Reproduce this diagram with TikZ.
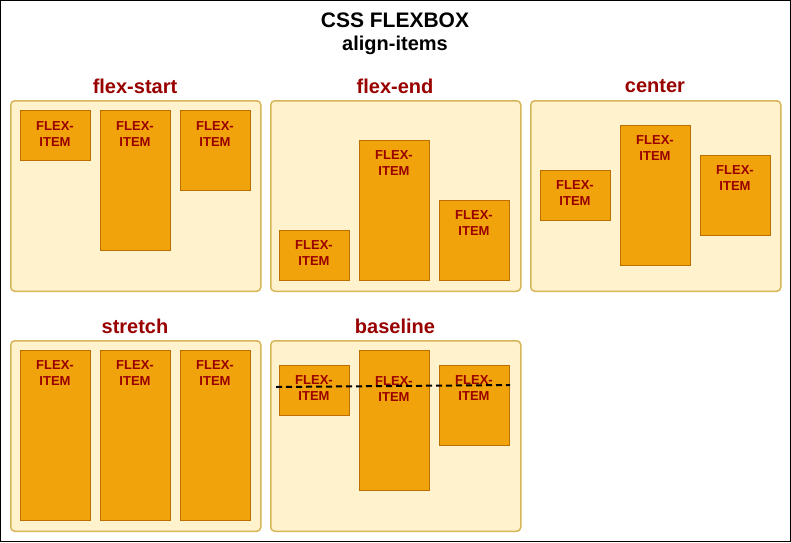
\documentclass[tikz,border=0pt]{standalone}
\usepackage{fontspec}
\setmainfont{Liberation Sans}
\definecolor{contfill}{HTML}{FFF2CC}
\definecolor{contdraw}{HTML}{D6B656}
\definecolor{itemfill}{HTML}{F0A30A}
\definecolor{itemdraw}{HTML}{BD7000}
\definecolor{darkred}{HTML}{990000}
\newcommand\fitem[6]{%
  \node[itembox, minimum width=#4pt, minimum height=#5pt, anchor=north west] (#1) at (#2,#3) {};
  \node[itemtext] (#1t) at (#2+#4/2, #6+1) {FLEX-\\ITEM};
}
\newcommand\fcont[4]{%
  \node[contbox, anchor=north west] (#1) at (#2,#3) {};
  \node[conttitle] (#1title) at (#2+125, #3-14) {#4};
}
\tikzset{
  contbox/.style={draw=contdraw, fill=contfill, line width=1.5pt, rounded corners=4pt,
    minimum width=250pt, minimum height=190.5pt, inner sep=0pt},
  conttitle/.style={font=\fontsize{20}{24}\selectfont\bfseries, text=darkred, inner sep=0pt},
  itembox/.style={draw=itemdraw, fill=itemfill, line width=1pt, inner sep=0pt},
  itemtext/.style={font=\fontsize{13}{16}\selectfont\bfseries, text=darkred, align=center, inner sep=0pt},
  titletext/.style={font=\fontsize{20}{24}\selectfont\bfseries, text=black, inner sep=0pt},
}
\begin{document}
\begin{tikzpicture}[x=1pt, y=-1pt]
  \fill[white] (0,0) rectangle (791,542);
  \draw[black, line width=1pt] (0.5,0.5) rectangle (790.5,541.5);
  \useasboundingbox (0,0) rectangle (791,542);

  \node[titletext] (t1) at (395,20) {\fontsize{21}{24}\selectfont CSS FLEXBOX};
  \node[titletext] (t2) at (395,45) {align-items};

  % containers
  \fcont{start}{10}{100}{flex-start}
  \fcont{end}{270}{100}{flex-end}
  \fcont{center}{530}{100}{center}
  \fcont{stretch}{10}{340}{stretch}
  \fcont{base}{270}{340}{baseline}

  % flex-start
  \fitem{s1}{20}{110}{70}{50}{133}
  \fitem{s2}{100}{110}{70}{140}{133}
  \fitem{s3}{180}{110}{70}{80}{133}
  % flex-end
  \fitem{e1}{279}{230}{70}{50}{252.5}
  \fitem{e2}{359}{140}{70}{140}{162.5}
  \fitem{e3}{439}{200}{70}{80}{222.5}
  % center
  \fitem{c1}{540}{170}{70}{50}{192.5}
  \fitem{c2}{620}{125}{70}{140}{147.5}
  \fitem{c3}{700}{155}{70}{80}{177.5}
  % stretch
  \fitem{st1}{20}{350}{70}{170}{372.5}
  \fitem{st2}{100}{350}{70}{170}{372.5}
  \fitem{st3}{180}{350}{70}{170}{372.5}
  % baseline
  \fitem{b1}{279}{365}{70}{50}{387.5}
  \fitem{b2}{359}{350}{70}{140}{388.5}
  \fitem{b3}{439}{365}{70}{80}{387.5}

  \coordinate (bl1) at (276,387);
  \coordinate (bl2) at (510,385);
  \draw[black, line width=2pt, dash pattern=on 6pt off 4pt] (bl1) -- (bl2);
\end{tikzpicture}
\end{document}
